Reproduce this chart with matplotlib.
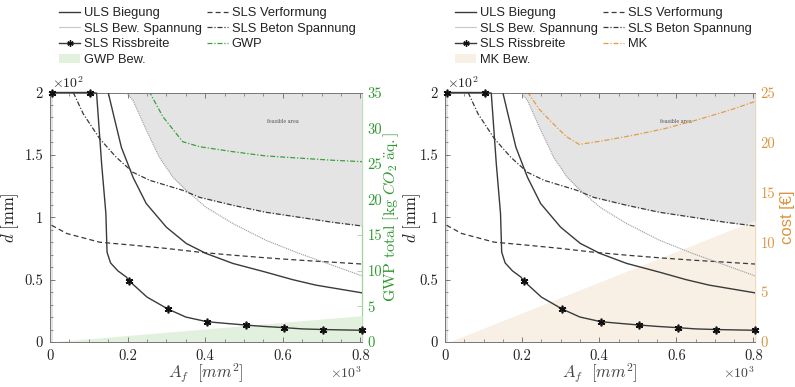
import numpy as np
import matplotlib
matplotlib.use("Agg")
import matplotlib.pyplot as plt
from matplotlib.ticker import MultipleLocator, FixedLocator, FixedFormatter
from matplotlib.patches import Patch
from matplotlib.lines import Line2D

plt.rcParams['mathtext.fontset'] = 'cm'
plt.rcParams['axes.unicode_minus'] = False

# ---------------- data (d in 10^2 mm, A_f in 10^3 mm^2) ----------------
uls_x = [0.150, 0.163, 0.184, 0.214, 0.248, 0.300, 0.351, 0.402, 0.471, 0.556, 0.625, 0.685, 0.804]
uls_y = [2.00, 1.83, 1.56, 1.32, 1.11, 0.92, 0.79, 0.71, 0.63, 0.56, 0.50, 0.456, 0.394]

verf_x = [0.004, 0.043, 0.128, 0.214, 0.300, 0.385, 0.471, 0.556, 0.642, 0.727, 0.804]
verf_y = [0.936, 0.87, 0.80, 0.776, 0.75, 0.72, 0.696, 0.675, 0.656, 0.64, 0.625]

bew_x = [0.197, 0.214, 0.248, 0.282, 0.317, 0.351, 0.402, 0.471, 0.556, 0.642, 0.727, 0.804]
bew_y = [2.00, 1.936, 1.70, 1.48, 1.32, 1.216, 1.08, 0.95, 0.816, 0.71, 0.616, 0.53]

beton_x = [0.060, 0.0855, 0.128, 0.171, 0.214, 0.257, 0.342, 0.385, 0.471, 0.556, 0.642, 0.727, 0.804]
beton_y = [2.00, 1.83, 1.63, 1.48, 1.36, 1.296, 1.216, 1.16, 1.096, 1.04, 1.00, 0.96, 0.93]

riss_x = [0.004, 0.104, 0.120, 0.133, 0.144, 0.147, 0.156, 0.175, 0.197, 0.204, 0.250, 0.304,
          0.350, 0.404, 0.450, 0.504, 0.550, 0.604, 0.650, 0.704, 0.750, 0.804]
riss_y = [2.00, 2.00, 1.995, 1.43, 1.03, 0.72, 0.634, 0.57, 0.52, 0.49, 0.36, 0.264,
          0.20, 0.163, 0.150, 0.136, 0.125, 0.115, 0.105, 0.100, 0.097, 0.094]
riss_mx = [0.004, 0.104, 0.204, 0.304, 0.404, 0.504, 0.604, 0.704, 0.804]
riss_my = [2.00, 2.00, 0.49, 0.264, 0.163, 0.136, 0.115, 0.100, 0.094]

feas_x = [0.197, 0.214, 0.248, 0.282, 0.317, 0.350, 0.385, 0.471, 0.556, 0.642, 0.727, 0.804]
feas_y = [2.00, 1.936, 1.70, 1.48, 1.32, 1.21, 1.16, 1.096, 1.04, 1.00, 0.96, 0.93]

gwp_x = [0.245, 0.257, 0.291, 0.342, 0.385, 0.471, 0.556, 0.642, 0.727, 0.804]
gwp_y = [36.5, 35.0, 31.6, 28.1, 27.4, 26.7, 26.1, 25.8, 25.5, 25.3]
gwpbew_x = [0.004, 0.804]
gwpbew_y = [0.0, 3.7]

mk_x = [0.205, 0.215, 0.245, 0.280, 0.314, 0.348, 0.400, 0.486, 0.572, 0.658, 0.744, 0.804]
mk_y = [26.0, 25.0, 23.3, 21.9, 20.6, 19.8, 20.1, 20.7, 21.4, 22.3, 23.3, 24.1]
mkbew_x = [0.010, 0.804]
mkbew_y = [0.0, 12.2]

x_ticks = [0, 0.2, 0.4, 0.6, 0.8]
x_labels = ['0', '0.2', '0.4', '0.6', '0.8']
y_ticks = [0, 0.5, 1, 1.5, 2]
y_labels = ['0', '0.5', '1', '1.5', '2']

# ---------------- style ----------------
DARK = '#3a3a3a'
GREEN_LINE = '#3aa03a'
GREEN_AX = '#2f962f'
GREEN_SP = '#9fd49f'
GREEN_FILL = '#e2f0de'
ORANGE_LINE = '#e49b45'
ORANGE_AX = '#d9953f'
ORANGE_SP = '#ecc896'
ORANGE_FILL = '#f8efe5'
GRAY_FILL = '#e4e4e4'
LEG_FONT = 'Liberation Sans'
TICK_FONT = 'cmr10'
ASTERISK = (6, 2, 0)

fig = plt.figure(figsize=(7.95, 3.87), dpi=100)


def panel(rect, sec_name, sec_x, sec_y, sec_max, secb_x, secb_y, sec_color_line, sec_color_ax,
          sec_color_sp, sec_fill, sec_label, sec_label_kw, sec_label_x, legend_x, d_label_x):
    ax = fig.add_axes(rect)
    axr = ax.twinx()
    ax.set_xlim(0, 0.804)
    ax.set_ylim(0, 2)
    axr.set_ylim(0, sec_max)
    ax.set_zorder(axr.get_zorder() + 1)
    ax.patch.set_visible(False)

    # left gray strip and feasible area
    ax.axvspan(0, 0.007, color=GRAY_FILL, lw=0, zorder=0.5)
    ax.fill_between(feas_x, feas_y, 2, color=GRAY_FILL, lw=0, zorder=0.5)
    # secondary fill (drawn in secondary coordinates)
    ax.fill_between(secb_x, secb_y, 0, color=sec_fill, lw=0, zorder=0.6,
                    transform=axr.transData)
    ax.text(0.60, 1.77, 'feasible area', fontsize=3.5, family='DejaVu Serif',
            color='#555555', ha='center', va='center', zorder=1)
    sec_line, = ax.plot(sec_x, sec_y, color=sec_color_line, lw=0.9, ls=(0, (4, 1.5, 1, 1.5)),
                        transform=axr.transData, zorder=1.5, clip_on=True)

    l_uls, = ax.plot(uls_x, uls_y, color=DARK, lw=1.0, zorder=3)
    l_verf, = ax.plot(verf_x, verf_y, color=DARK, lw=0.9, ls=(0, (4, 2.5)), zorder=3)
    l_bew, = ax.plot(bew_x, bew_y, color='#9a9a9a', lw=0.8, ls=(0, (1, 0.8)), zorder=3)
    l_beton, = ax.plot(beton_x, beton_y, color=DARK, lw=0.9, ls=(0, (4, 1.5, 1, 1.5)), zorder=3)
    ax.plot(riss_x, riss_y, color=DARK, lw=1.0, zorder=3, clip_on=False)
    ax.plot(riss_mx, riss_my, ls='none', marker=ASTERISK, ms=5.5, mew=1.2, color='#111111',
            zorder=4, clip_on=False)

    # ticks
    ax.xaxis.set_major_locator(FixedLocator(x_ticks))
    ax.xaxis.set_major_formatter(FixedFormatter(x_labels))
    ax.xaxis.set_minor_locator(MultipleLocator(0.05))
    ax.yaxis.set_major_locator(FixedLocator(y_ticks))
    ax.yaxis.set_major_formatter(FixedFormatter(y_labels))
    ax.yaxis.set_minor_locator(MultipleLocator(0.1))
    ax.tick_params(which='both', direction='in', top=True, right=False, colors='#666666',
                   labelcolor='#222222', labelsize=10.5, pad=5)
    ax.tick_params(which='major', length=3.5, width=0.6)
    ax.tick_params(which='minor', length=2, width=0.5)
    for lab in ax.get_xticklabels() + ax.get_yticklabels():
        lab.set_family(TICK_FONT)
    for s in ['left', 'bottom', 'top']:
        ax.spines[s].set_color('#777777')
        ax.spines[s].set_linewidth(0.7)
    ax.spines['right'].set_visible(False)

    axr.yaxis.set_major_locator(MultipleLocator(5))
    axr.tick_params(direction='in', length=3.5, width=0.6, colors=sec_color_sp,
                    labelcolor=sec_color_ax, labelsize=10.5, pad=4)
    for lab in axr.get_yticklabels():
        lab.set_family(TICK_FONT)
    for s in ['left', 'bottom', 'top']:
        axr.spines[s].set_visible(False)
    axr.spines['right'].set_color(sec_color_sp)
    axr.spines['right'].set_linewidth(0.9)

    ax.set_ylabel(r'$d\ \mathrm{[mm]}$', fontsize=12, color='#222222')
    ax.yaxis.set_label_coords(d_label_x, 0.5)
    ax.set_xlabel(r'$A_f\ \ [mm^2]$', fontsize=12, color='#444444', labelpad=-1)
    axr.set_ylabel(sec_label, color=sec_color_ax, **sec_label_kw)
    axr.yaxis.set_label_coords(sec_label_x, 0.5)

    ax.text(0.005, 1.005, r'$\times10^2$', transform=ax.transAxes, fontsize=10,
            color='#222222', ha='left', va='bottom')
    ax.text(1.0, -0.125, r'$\times10^3$', transform=ax.transAxes, fontsize=10,
            color='#444444', ha='right', va='center')

    # legend
    h_riss = Line2D([], [], color=DARK, lw=1.0, marker=ASTERISK, ms=4.5, mew=1.0,
                    mfc='#111111', mec='#111111')
    h_fill = Patch(facecolor=sec_fill, edgecolor='none')
    handles = [l_uls, l_bew, h_riss, h_fill, l_verf, l_beton, sec_line]
    labels = ['ULS Biegung', 'SLS Bew. Spannung', 'SLS Rissbreite', sec_name + ' Bew.',
              'SLS Verformung', 'SLS Beton Spannung', sec_name]
    leg = ax.legend(handles, labels, loc='upper left', ncol=2, frameon=False,
                    bbox_to_anchor=(legend_x / 795, 1 - 7 / 387), bbox_transform=fig.transFigure,
                    prop={'family': LEG_FONT, 'size': 9.3}, handlelength=1.65,
                    handletextpad=0.3, columnspacing=0.35, labelspacing=0.28, borderpad=0.0,
                    borderaxespad=0.0)
    for t in leg.get_texts():
        t.set_color('#222222')
    return ax, axr


bottom = 45 / 387
height = 249.5 / 387
panel([50 / 795, bottom, 312 / 795, height], 'GWP', gwp_x, gwp_y, 35, gwpbew_x, gwpbew_y,
      GREEN_LINE, GREEN_AX, GREEN_SP, GREEN_FILL,
      r'$\mathrm{GWP\ total\ [kg}\ CO_2\ \mathrm{\ddot{a}q.]}$', {'fontsize': 11.5},
      1 + (381 - 362) / 312, 59, (21 - 50) / 312)
panel([445 / 795, bottom, 310 / 795, height], 'MK', mk_x, mk_y, 25, mkbew_x, mkbew_y,
      ORANGE_LINE, ORANGE_AX, ORANGE_SP, ORANGE_FILL,
      'cost [€]', {'fontsize': 12, 'family': 'Liberation Sans'},
      1 + (780 - 755) / 310, 455, (423 - 445) / 310)

fig.savefig('out.png', dpi=100)
